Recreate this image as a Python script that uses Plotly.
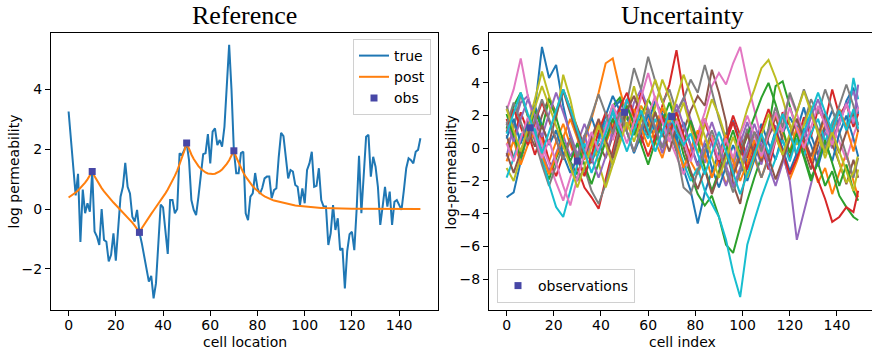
import plotly.graph_objects as go

W, H = 872, 352

# ---- left panel: reference field, kriged posterior mean, observations ----
cells = list(range(150))

true_logk = [
    3.25, 2.3, 1.4, 0.45, 1.17, -1.1, 0.65, -0.14, 0.19, -0.09,
    1.25, -0.75, -0.92, -1.2, 0.0, -1.03, -1.09, -1.75, -1.53, -0.81,
    -1.72, -0.48, 0.41, 0.74, 1.54, 0.74, 0.52, -0.26, -0.42, -0.03,
    -0.78, -1.14, -1.59, -2.03, -2.42, -2.23, -2.98, -2.48, -0.92, 0.15,
    0.05, -0.85, -1.5, 0.3, 0.3, -0.14, 0.0, 1.86, 1.8, 1.97,
    2.2, 1.63, 0.3, -0.03, -0.2, 0.41, 1.19, 1.83, 1.86, 2.5,
    1.52, 2.58, 2.69, 2.13, 2.3, 2.08, 2.74, 4.19, 5.47, 3.97,
    1.94, 1.19, 1.19, 1.86, 1.91, -0.14, -0.37, 0.41, 0.52, 1.2,
    0.7, 0.5, 0.7, 1.02, 1.08, 1.08, 0.36, 0.63, 0.69, 1.74,
    2.54, 2.43, 1.74, 1.02, 1.3, 1.25, 0.8, 0.74, 0.13, 0.69,
    0.19, 1.3, 1.52, 1.91, 0.74, 0.77, 1.36, 0.3, 0.08, 0.08,
    -1.2, -0.81, 0.13, -0.7, -0.31, -1.37, -1.31, -2.65, -1.4, -0.84,
    -0.76, -1.37, 0.0, 1.77, -0.14, 1.08, 2.41, 2.47, 1.08, 1.74,
    1.41, 0.74, -0.53, 0.08, 0.74, 0.08, 0.58, -0.53, 0.24, 0.3,
    0.13, -0.03, 0.63, 1.36, 1.69, 1.63, 1.52, 1.91, 1.97, 2.36,
]

post_mean = [
    0.385, 0.434, 0.488, 0.549, 0.617, 0.694, 0.781, 0.878, 0.988, 1.111,
    1.25,
    1.091, 0.947, 0.816, 0.697, 0.587, 0.485, 0.390, 0.300, 0.215, 0.132,
    0.052, -0.028, -0.109, -0.190, -0.275, -0.363, -0.456, -0.556, -0.664,
    -0.78,
    -0.642, -0.513, -0.391, -0.274, -0.161, -0.051, 0.059, 0.170, 0.283, 0.400,
    0.522, 0.652, 0.791, 0.941, 1.103, 1.282, 1.477, 1.694, 1.933,
    2.2,
    1.995, 1.818, 1.665, 1.536, 1.429, 1.341, 1.271, 1.219, 1.184, 1.166,
    1.163, 1.177, 1.207, 1.254, 1.318, 1.401, 1.503, 1.625, 1.770,
    1.94,
    1.725, 1.533, 1.363, 1.212, 1.077, 0.958, 0.851, 0.757, 0.673, 0.598,
    0.532, 0.473, 0.420, 0.374, 0.34, 0.31, 0.28, 0.26, 0.24, 0.22,
    0.20, 0.18, 0.165, 0.15, 0.135, 0.12, 0.11, 0.10, 0.09, 0.08,
    0.07, 0.063, 0.056, 0.05, 0.044, 0.039, 0.035, 0.031, 0.027, 0.024,
    0.021, 0.019, 0.017, 0.015, 0.013, 0.011, 0.01,
    0.009, 0.008, 0.007, 0.006, 0.006, 0.005, 0.005, 0.004, 0.004, 0.003,
    0.003, 0.003, 0.002, 0.002, 0.002, 0.002, 0.001, 0.001, 0.001, 0.001,
    0.001, 0.001, 0.0, 0.0, 0.0, 0.0, 0.0, 0.0, 0.0, 0.0, 0.0, 0.0,
]

obs_cells = [10, 30, 50, 70]
obs_vals = [1.25, -0.78, 2.2, 1.94]

# ---- right panel: ensemble of conditional realizations ----
sim_cells = list(range(0, 150, 3)) + [149]

r00 = [-3.0, -2.7, -0.8, 0.9, 2.4, 6.2, 4.3, 5.1, 2.6, 0.7, -0.6, -1.6, -0.7, 0.5, 1.3, 2.4, 2.9,
       1.8, 1.1, 0.3, 1.6, 2.9, 2.1, 1.4, 0.8, -1.3, -2.6, -4.6, -2.7, -1.4, -0.3, 0.9, 1.7, 0.4,
       -0.9, 0.3, 1.5, 0.3, -0.7, 0.9, 1.9, 1.1, 2.5, 0.8, -0.4, 1.2, 2.3, 1.4, 2.9, 3.7, 2.1]
r01 = [0.2, 1.0, -0.5, 0.8, 1.9, 0.6, -0.8, 0.4, 1.5, 0.2, -0.9, 0.4, 1.8, 3.4, 5.2, 5.5, 3.6,
       2.0, 1.2, 2.6, 1.8, 0.4, -0.6, 0.9, 1.7, 0.6, -0.8, -1.6, -0.4, 0.8, -0.9, -2.2, -1.3, -0.2,
       0.9, -0.6, -1.8, -0.5, 0.7, -0.4, -1.9, -0.8, 0.5, -0.7, -2.1, -1.2, -2.8, -1.5, -0.3, -2.0, -3.0]
r02 = [1.2, 2.6, 3.4, 1.9, 0.5, -0.8, -1.9, -0.6, 0.4, -0.8, -1.6, -0.5, 0.9, -0.3, 1.4, 2.6, 3.1,
       2.0, 0.8, 1.9, 3.0, 2.2, 0.9, 2.1, 1.3, -0.4, -1.6, -2.8, -3.5, -2.9, -4.2, -5.9, -6.4, -4.8,
       -3.2, -1.8, -0.5, 1.2, 3.8, 4.1, 2.6, 1.0, -0.4, -1.8, -0.9, -2.3, -1.4, -2.9, -3.6, -4.2, -4.4]
r03 = [1.8, 0.6, 2.2, 1.0, -0.4, 0.9, -0.8, -1.7, -0.4, 0.6, -1.2, -2.4, -3.0, -3.7, -1.9, -0.2, 1.6,
       3.0, 2.1, 3.4, 2.2, 1.0, 2.6, 3.9, 6.0, 3.3, 1.5, 0.2, 1.6, 0.4, -1.1, 0.6, 2.0, 0.8,
       -0.6, 1.0, 0.1, -1.3, 0.5, 2.2, 1.4, 0.3, 1.9, 0.7, 2.4, 1.6, 3.6, 2.0, 2.7, 1.3, 2.1]
r04 = [-0.5, 1.4, 2.8, 3.2, 1.6, -0.2, -1.4, -0.3, 0.8, -0.5, 0.3, 1.5, 0.4, -0.8, 0.6, 1.8, 2.5,
       1.2, 2.8, 3.6, 2.4, 1.1, -0.3, 1.0, 2.2, 3.1, 1.8, 0.5, -0.9, 0.4, -1.1, -2.3, -1.0, 0.3,
       1.6, 0.2, -1.0, 0.8, 1.4, -0.3, -2.0, -5.6, -3.9, -2.2, -0.5, 1.0, 0.0, 1.8, 2.6, 3.5, 2.4]
r05 = [0.8, -0.6, 0.4, 1.7, 0.6, 2.0, 3.1, 2.2, 3.6, 2.4, 1.2, 0.1, -0.9, 0.3, -0.6, 0.8, 1.9,
       2.6, 1.4, 0.3, 1.5, 0.6, 2.0, 1.2, -0.2, 1.1, 2.3, 3.2, 2.6, 4.8, 3.4, 1.6, -2.2, -3.4,
       -1.0, 0.4, -0.8, 0.7, 1.9, 0.5, -0.6, 1.1, 0.0, -1.3, 0.2, 1.4, 0.3, -0.9, -2.2, -0.7, -1.8]
r06 = [2.3, 3.6, 5.5, 3.2, 1.4, 0.2, -1.0, -2.1, -3.2, -1.8, -0.4, 0.8, -0.6, 0.4, 1.6, 0.5, 1.9,
       3.0, 1.8, 0.7, 2.0, 3.2, 1.6, 0.6, -0.5, -1.6, -0.4, 0.9, 2.2, 3.8, 4.6, 3.9, 5.2, 6.2,
       4.1, 2.3, 0.6, -0.8, 0.5, 1.8, 3.2, 2.1, 0.8, 2.0, 1.1, -0.2, 1.3, 0.4, -0.7, 0.8, 1.6]
r07 = [2.6, 1.2, 3.3, 2.0, 0.5, -1.0, -2.3, -1.1, 0.2, -0.9, -2.0, -1.2, -2.6, -3.4, -2.2, -0.5, 1.4,
       2.8, 4.9, 3.6, 5.6, 4.1, 2.8, 3.6, 2.2, 3.0, 4.2, 3.4, 5.1, 3.5, 1.8, 0.4, -1.6, -0.3,
       1.2, -0.4, -1.8, -0.6, 0.8, 2.0, 0.9, -0.5, 1.5, 3.0, 2.1, 3.6, 2.4, 1.0, -0.4, -1.8, -0.6]
r08 = [-1.2, -2.0, -0.5, 1.4, 3.0, 4.7, 3.2, 1.8, 4.5, 3.0, 1.0, -0.6, 0.8, -0.9, -2.4, -1.0, 0.6,
       2.1, 3.8, 2.2, 0.9, 2.5, 4.2, 3.1, 1.6, 2.8, 1.2, -0.3, 1.5, 3.0, 2.0, 0.6, -0.8, 0.9,
       2.4, 3.6, 4.9, 5.4, 4.3, 3.0, 1.5, 0.2, 1.4, 2.6, 0.8, -0.6, 0.7, -0.9, -2.1, -1.5, -0.4]
r09 = [-1.8, -0.6, 0.9, 0.4, 1.2, -0.5, -2.2, -3.6, -4.2, -2.6, -1.0, 0.3, -0.8, 0.5, 1.6, 2.4, 1.5,
       3.0, 2.2, 1.4, 0.6, 1.8, 0.7, 1.6, 0.3, -0.9, -2.0, -1.2, -2.6, -3.4, -4.2, -5.6, -7.6, -9.1,
       -5.9, -4.4, -3.0, -1.8, -0.6, 0.5, -0.8, 0.6, -0.5, 0.9, 1.8, 0.4, 1.6, 2.4, 1.2, 4.3, 3.0]
r10 = [0.6, 1.8, 0.3, 1.5, 2.6, 1.4, 0.2, 1.1, -0.4, -1.5, -0.6, 0.7, 1.9, 0.6, 2.0, 3.2, 2.3,
       1.0, -0.3, 0.8, 2.1, 1.0, 2.4, 1.8, 0.5, 1.6, 0.2, -1.0, 0.3, -1.2, -2.4, -1.1, 0.2, -0.9,
       -2.0, -0.7, 0.6, -0.4, 1.1, 0.0, -1.4, -0.3, 1.2, 0.2, -1.1, 0.4, -0.8, 0.9, 2.0, 0.6, -0.5]
r11 = [-0.8, 0.5, -1.0, 0.2, 1.0, -0.4, -1.6, -0.5, 0.7, 1.8, 0.6, -0.7, 0.4, 1.6, 0.3, 1.4, 2.3,
       1.1, 2.4, 1.3, 0.1, 1.2, 2.5, 1.4, 0.2, -1.2, -0.1, 1.1, -0.3, -1.8, -0.6, 0.8, -0.8, -2.0,
       -0.9, 0.5, -0.6, 0.9, 2.1, 1.0, -0.2, 1.3, 0.4, -0.9, 0.6, 1.9, 0.8, 2.4, 1.3, -0.2, 1.1]
r12 = [2.1, 0.8, -0.6, 0.9, 2.3, 1.2, 3.0, 1.9, 0.4, -0.8, 0.3, -1.0, -2.2, -0.9, 0.5, 1.8, 0.7,
       2.6, 1.5, 0.2, -1.0, 0.4, 1.6, 2.8, 1.5, 0.3, 1.7, 0.4, -1.2, -2.6, -1.4, -0.2, 1.1, -0.4,
       0.8, 2.0, 3.1, 4.0, 2.7, 1.2, -0.3, 0.9, -0.6, -2.0, -0.8, 0.5, -0.9, -2.3, -1.0, -2.6, -3.2]
r13 = [1.0, 2.4, 1.3, 0.2, 1.6, 2.8, 1.7, 0.5, -0.7, 0.6, -0.5, -1.7, -0.4, 1.0, 2.2, 1.1, 2.5,
       3.4, 2.0, 0.8, -0.5, 0.7, 1.9, 0.9, 2.2, 0.8, -0.6, 0.6, 1.8, 0.5, -0.8, 0.4, 1.6, 0.2,
       -1.3, -0.1, 1.2, 2.4, 1.1, -0.3, -1.6, -0.6, 0.6, -0.8, -2.0, -3.1, -4.5, -4.2, -3.6, -3.9, -2.6]
r14 = [1.6, 0.4, 1.8, 3.0, 2.0, 0.7, 2.1, 3.4, 2.2, 0.9, -0.4, 0.8, -0.6, -1.8, -0.5, 1.0, 2.2,
       1.0, -0.2, 1.2, 2.4, 1.3, 0.1, 1.5, 2.7, 1.4, 0.2, -1.1, 0.4, 1.6, 0.3, -1.0, -2.4, -1.2,
       0.1, 1.5, 0.2, -1.1, -2.3, -0.9, 0.6, 1.8, 0.5, 1.9, 3.0, 1.7, 0.5, 1.6, 2.8, 1.5, 3.9]
r15 = [-0.3, -1.5, -0.2, 1.1, 0.1, 1.4, 0.3, 2.0, 3.5, 2.1, 0.8, -0.5, 0.6, 1.8, 0.5, -0.6, 1.0,
       2.3, 3.2, 2.0, 0.8, 2.2, 1.0, -0.2, 1.3, 0.1, -1.4, -2.5, -1.3, -2.8, -1.6, -0.3, -1.7, -0.5,
       0.9, -0.4, 0.8, -0.6, -1.9, -0.7, 0.6, 1.8, 0.6, -0.5, 0.8, 2.1, 0.9, -0.3, 1.0, 2.2, 1.0]
r16 = [0.3, -0.8, 0.6, 1.9, 0.7, -0.6, 0.5, -0.9, -2.3, -3.5, -1.8, -0.4, 1.0, -0.2, 1.3, 2.7, 1.5,
       0.3, 1.6, 3.1, 4.6, 3.0, 1.6, 0.4, 1.7, 0.5, -0.8, 0.5, 1.8, 0.6, -0.7, 0.6, -0.6, 0.8,
       2.0, 0.8, -0.5, 0.9, 2.2, 1.0, 2.5, 1.2, 0.0, 1.3, 2.6, 1.4, 0.2, 1.5, 2.7, 1.6, 2.5]
r17 = [1.4, 2.8, 1.6, 0.4, 1.7, 3.0, 1.8, 0.6, -0.7, 0.6, -0.6, 0.7, 2.0, 3.3, 2.1, 0.9, 2.2,
       1.0, -0.2, 1.1, 2.4, 1.2, 0.0, 1.2, -0.1, -2.4, -2.8, -1.4, -0.2, 1.1, -0.1, -1.4, -2.7, -1.5,
       -0.3, 1.0, -0.2, 1.2, 2.5, 1.3, 3.4, 2.2, 3.6, 2.4, 1.2, -0.1, 1.3, 2.6, 3.9, 2.6, 1.4]
r18 = [2.4, 1.1, -0.2, 1.2, 2.5, 3.8, 2.6, 1.4, 0.2, -1.1, -2.4, -1.2, 0.1, 1.4, 0.2, -1.0, 0.3,
       1.6, 0.4, 1.7, 3.0, 4.2, 2.9, 1.6, 3.0, 4.5, 3.3, 2.0, 0.7, -0.6, -1.8, -0.6, 0.7, -0.5,
       -1.8, -0.5, 0.8, 2.1, 0.8, -0.4, 0.9, 2.2, 3.5, 2.2, 1.0, -0.3, 1.0, -0.2, -1.5, -2.6, -1.3]
r19 = [0.9, 2.2, 3.4, 2.1, 1.0, -0.3, 1.0, 2.3, 3.6, 2.4, 1.1, -0.2, -1.5, -0.3, 0.9, 2.2, 1.0,
       -0.2, 1.1, 2.3, 1.1, -0.2, 1.0, 2.2, 1.0, 0.2, 0.9, -0.4, -1.6, -0.3, 1.0, -0.2, -1.5, -2.8,
       -1.6, -0.4, 0.9, -0.3, 0.9, 2.1, 0.9, -0.3, 1.0, 2.2, 3.4, 2.2, 1.0, 2.3, 1.1, 2.4, 1.2]

ensemble = [r00, r01, r02, r03, r04, r05, r06, r07, r08, r09,
            r10, r11, r12, r13, r14, r15, r16, r17, r18, r19]

tab10 = ["#1f77b4", "#ff7f0e", "#2ca02c", "#d62728", "#9467bd",
         "#8c564b", "#e377c2", "#7f7f7f", "#bcbd22", "#17becf"]
OBS_COLOR = "#4747a6"
SANS = "DejaVu Sans"
SERIF = "Liberation Serif"


def px(x):
    return x / W


def py(y):
    return 1 - y / H


fig = go.Figure()

# left panel
fig.add_trace(go.Scatter(x=cells, y=true_logk, mode="lines", name="true",
                         line=dict(color=tab10[0], width=2), xaxis="x", yaxis="y"))
fig.add_trace(go.Scatter(x=cells, y=post_mean, mode="lines", name="post",
                         line=dict(color=tab10[1], width=2), xaxis="x", yaxis="y"))
fig.add_trace(go.Scatter(x=obs_cells, y=obs_vals, mode="markers", name="obs",
                         marker=dict(symbol="square", size=7, color=OBS_COLOR),
                         xaxis="x", yaxis="y"))

# right panel
for i, real in enumerate(ensemble):
    fig.add_trace(go.Scatter(x=sim_cells, y=real, mode="lines", showlegend=False,
                             line=dict(color=tab10[i % 10], width=2),
                             xaxis="x2", yaxis="y2"))
fig.add_trace(go.Scatter(x=obs_cells, y=obs_vals, mode="markers", name="observations",
                         marker=dict(symbol="square", size=7, color=OBS_COLOR),
                         xaxis="x2", yaxis="y2", legend="legend2"))

axis_common = dict(showgrid=False, zeroline=False, showline=True, linecolor="black",
                   linewidth=1, ticks="outside", ticklen=5, tickwidth=1, tickcolor="black",
                   tickfont=dict(family=SANS, size=14, color="black"))

y_dom = [py(310), py(33)]
fig.update_layout(
    width=W, height=H,
    margin=dict(l=0, r=0, t=0, b=0),
    paper_bgcolor="white", plot_bgcolor="white",
    xaxis=dict(domain=[px(51), px(438)], range=[-7.45, 156.45], tickvals=list(range(0, 141, 20)),
               mirror=True, anchor="y", ticklabelstandoff=-3, **axis_common),
    yaxis=dict(domain=y_dom, range=[-3.367, 5.867], tickvals=[-2, 0, 2, 4],
               mirror=True, anchor="x", **axis_common),
    xaxis2=dict(domain=[px(489), 1.0], range=[-7.45, 154.86], tickvals=list(range(0, 141, 20)),
                mirror=True, anchor="y2", ticklabelstandoff=-3, **axis_common),
    yaxis2=dict(domain=y_dom, range=[-9.89, 7.05], tickvals=[-8, -6, -4, -2, 0, 2, 4, 6],
                mirror=False, anchor="x2", **axis_common),
    legend=dict(x=px(431), y=py(39), xanchor="right", yanchor="top",
                bgcolor="rgba(255,255,255,0.8)", bordercolor="#d0d0d0", borderwidth=1,
                font=dict(family=SANS, size=14, color="black")),
    legend2=dict(x=px(497), y=py(303), xanchor="left", yanchor="bottom",
                 bgcolor="rgba(255,255,255,0.8)", bordercolor="#d0d0d0", borderwidth=1,
                 font=dict(family=SANS, size=14, color="black")),
    annotations=[
        dict(text="Reference", x=px(244.5), y=py(16), xref="paper", yref="paper",
             showarrow=False, xanchor="center", yanchor="middle",
             font=dict(family=SERIF, size=26, color="black")),
        dict(text="Uncertainty", x=px(682), y=py(16), xref="paper", yref="paper",
             showarrow=False, xanchor="center", yanchor="middle",
             font=dict(family=SERIF, size=26, color="black")),
        dict(text="cell location", x=px(244.5), y=py(342), xref="paper", yref="paper",
             showarrow=False, xanchor="center", yanchor="middle",
             font=dict(family=SANS, size=14, color="black")),
        dict(text="cell index", x=px(682), y=py(342), xref="paper", yref="paper",
             showarrow=False, xanchor="center", yanchor="middle",
             font=dict(family=SANS, size=14, color="black")),
        dict(text="log permeability", x=px(13), y=py(171.5), xref="paper", yref="paper",
             showarrow=False, xanchor="center", yanchor="middle", textangle=-90,
             font=dict(family=SANS, size=14, color="black")),
        dict(text="log-permeability", x=px(450), y=py(171.5), xref="paper", yref="paper",
             showarrow=False, xanchor="center", yanchor="middle", textangle=-90,
             font=dict(family=SANS, size=14, color="black")),
    ],
)

fig.write_html("out.html")
